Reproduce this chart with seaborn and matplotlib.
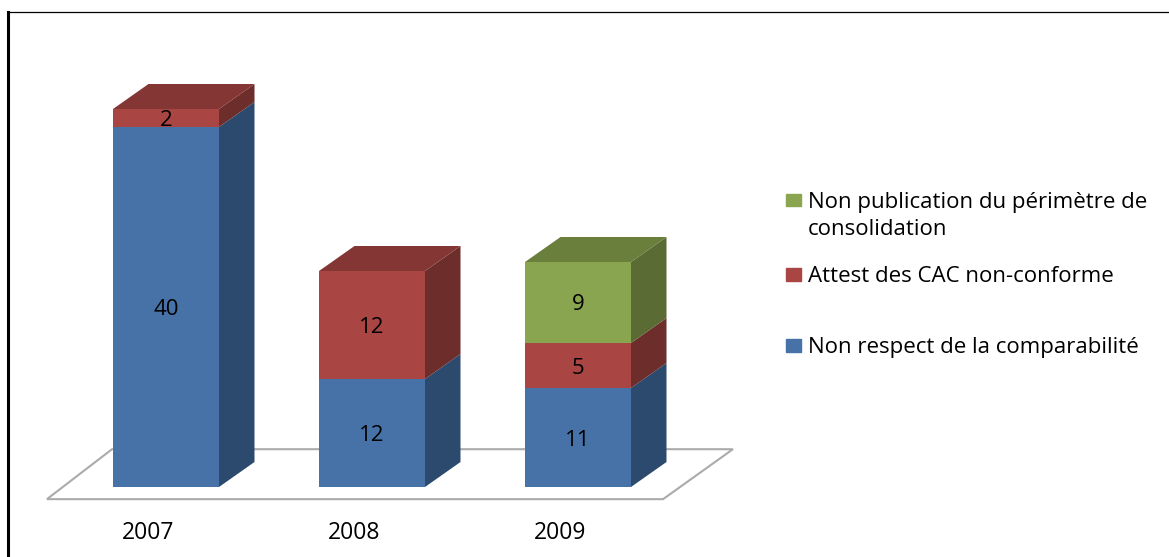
import matplotlib
matplotlib.use("Agg")
import matplotlib.pyplot as plt
from matplotlib.patches import Patch
import seaborn as sns

years = ["2007", "2008", "2009"]
comparabilite = [40, 12, 11]
attest = [2, 12, 5]
perimetre = [0, 0, 9]
name_comp = "Non respect de la comparabilité"
name_attest = "Attest des CAC non-conforme"
name_perim = "Non publication du périmètre de"
name_perim2 = "consolidation"

c_front = ["#4672A8", "#A94543", "#8AA54F"]
c_side = ["#2C4A6E", "#6C2D2B", "#5A6B34"]
c_top = ["#2F4F78", "#833634", "#6B7F3C"]

W, H = 1169, 557
PX_X, PX_Y = 206.0, 9.0
X0, Y0 = 166.0, 487.0
LEFT, TOP = 8.0, 11.5
DX, DY = 35.5 / PX_X, 25 / PX_Y
BW = 106 / PX_X
FS = 16

sns.set_theme(style="white")
plt.rcParams["font.family"] = ["Open Sans", "DejaVu Sans"]
fig = plt.figure(figsize=(W / 100, H / 100), dpi=100, facecolor="white")
ax = fig.add_axes([LEFT / W, 0, (W - LEFT) / W, (H - TOP) / H])

# floor
fy0, fy1 = -1.35, 4.2
fx = [-0.578, 2.413, 2.752, -0.262]
ax.fill(fx, [fy0, fy0, fy1, fy1], facecolor="white", edgecolor="#ABABAB", lw=1.5, zorder=1)

bottom = [0, 0, 0]
for vals, cf, cs, ct in zip([comparabilite, attest, perimetre], c_front, c_side, c_top):
    sns.barplot(x=years, y=vals, bottom=bottom, color=cf, saturation=1, width=BW, ax=ax,
                linewidth=0, zorder=3)
    cont = ax.containers[-1]
    labs = ax.bar_label(cont, labels=[str(v) if v else "" for v in vals], label_type="center",
                        fontsize=FS, color="black", zorder=6)
    for t in labs:
        t.xyann = (0, -1.8)
    tops = [b + v for b, v in zip(bottom, vals)]
    for i, (b, t, v) in enumerate(zip(bottom, tops, vals)):
        if v == 0:
            continue
        r = i + BW / 2
        ax.fill([r, r + DX, r + DX, r], [b, b + DY, t + DY, t], color=cs, lw=0, zorder=2.5)
    bottom = tops
for i, t in enumerate(bottom):
    l, r = i - BW / 2, i + BW / 2
    col = c_top[2] if perimetre[i] else c_top[1]
    ax.fill([l, r, r + DX, l + DX], [t, t, t + DY, t + DY], color=col, lw=0, zorder=2.6)

ax.set_xlim((LEFT - X0) / PX_X, (W - X0) / PX_X)
ax.set_ylim(-(H - Y0) / PX_Y, (Y0 - TOP) / PX_Y)
ax.set_yticks([])
ax.set_xticks([i - 17.5 / PX_X for i in range(len(years))], years)
ax.set_xlabel("")
ax.spines["right"].set_visible(False)
ax.spines["bottom"].set_position(("data", -2.9))
ax.spines["bottom"].set_visible(False)
ax.spines["left"].set_color("black")
ax.spines["left"].set_linewidth(2.2)
ax.spines["top"].set_color("black")
ax.spines["top"].set_linewidth(0.9)
ax.tick_params(axis="x", length=0, labelsize=16.5, labelcolor="black", pad=6)


def add_leg(handles, labels, ypx):
    leg = ax.legend(handles, labels, loc="center left",
                    bbox_to_anchor=(786 / W, 1 - ypx / H), bbox_transform=fig.transFigure,
                    frameon=False, fontsize=FS, labelcolor="black", handlelength=0.68,
                    handleheight=0.5, handletextpad=0.3, borderpad=0, borderaxespad=0,
                    labelspacing=0.28)
    ax.add_artist(leg)
    ax.legend_ = None


add_leg([Patch(color=c_front[2]), Patch(alpha=0)], [name_perim, name_perim2], 216)
add_leg([Patch(color=c_front[1])], [name_attest], 277)
add_leg([Patch(color=c_front[0])], [name_comp], 348)

fig.savefig("out.png", dpi=100)
